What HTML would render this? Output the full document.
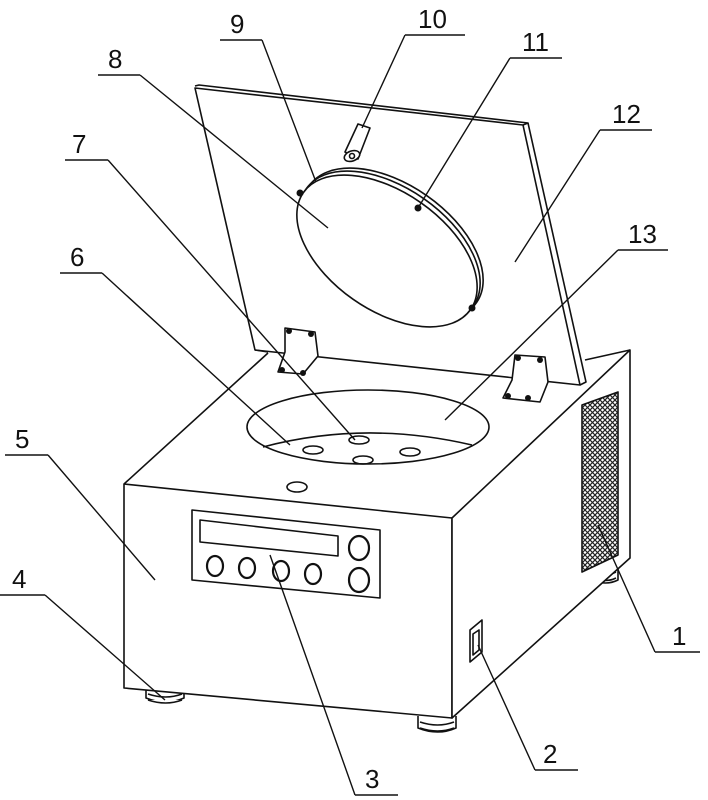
<!DOCTYPE html>
<html><head><style>
html,body{margin:0;padding:0;background:#fff;}
svg{display:block;}
text{font-family:"Liberation Sans",sans-serif;font-size:26px;fill:#111;}
</style></head><body>
<svg width="708" height="800" viewBox="0 0 708 800" xmlns="http://www.w3.org/2000/svg">
<defs>
<pattern id="mesh" width="5" height="5" patternUnits="userSpaceOnUse">
<rect width="5" height="5" fill="#fff"/>
<path d="M0 0L5 5M5 0L0 5" stroke="#222" stroke-width="1.2"/>
</pattern>
</defs>
<g fill="none" stroke="#111" stroke-width="1.6" stroke-linejoin="round">
<!-- feet -->
<g fill="#fff">
<path d="M146 688 v10 q20 8 38 0 v-10"/><path d="M148 694 q18 6 34 0 M148 700 q18 6 34 0"/>
<path d="M418 716 v12 q20 8 38 0 v-12"/><path d="M420 722 q18 6 34 0 M420 728 q18 6 34 0"/>
<path d="M592 558 v22 q14 6 26 0 v-22"/><path d="M594 572 q12 5 22 0 M594 578 q12 5 22 0"/>
</g>
<!-- box -->
<path d="M124 484 L452 518 L452 718 L124 688 Z" fill="#fff"/>
<path d="M452 518 L630 350 L630 558 L452 718 Z" fill="#fff"/>
<path d="M124 484 L268 353 M630 350 L585 360"/>
<!-- lid -->
<path d="M195 88 L523 125 L580 385 L255 350 Z" fill="#fff"/>
<path d="M195 86 L199 85 L528 123 L523 125"/>
<path d="M528 123 L586 382 L580 385"/>
<path d="M255 350 L268 352"/>
<!-- lid window -->
<ellipse cx="393" cy="244" rx="102" ry="59" transform="rotate(35 393 244)"/>
<ellipse cx="390" cy="247" rx="102" ry="59" transform="rotate(35 390 247)"/>
<ellipse cx="387" cy="251" rx="102" ry="59" transform="rotate(35 387 251)" fill="#fff"/>
<!-- part 10 -->
<path d="M345 152 L358 124 L370 128 L358 159 Z" fill="#fff"/>
<ellipse cx="352" cy="156" rx="8" ry="5" transform="rotate(-20 352 156)" fill="#fff"/>
<circle cx="352" cy="156" r="2.5"/>
<!-- hinges -->
<path d="M285 328 L315 332 L318 356 L303 374 L278 372 L285 352 Z" fill="#fff"/>
<path d="M515 355 L545 357 L548 382 L540 402 L503 398 L512 380 Z" fill="#fff"/>
<!-- bowl -->
<ellipse cx="368" cy="427" rx="121" ry="37" fill="#fff"/>
<path d="M263 447 Q365 420 472 445"/>
<ellipse cx="313" cy="450" rx="10" ry="4"/>
<ellipse cx="359" cy="440" rx="10" ry="4"/>
<ellipse cx="410" cy="452" rx="10" ry="4"/>
<ellipse cx="363" cy="460" rx="10" ry="4"/>
<ellipse cx="297" cy="487" rx="10" ry="5"/>
<!-- panel -->
<path d="M192 510 L380 530 L380 598 L192 580 Z"/>
<path d="M200 520 L338 536 L338 556 L200 542 Z"/>
<g stroke-width="2.2">
<ellipse cx="215" cy="566" rx="8" ry="10"/><ellipse cx="247" cy="568" rx="8" ry="10"/>
<ellipse cx="281" cy="571" rx="8" ry="10"/><ellipse cx="313" cy="574" rx="8" ry="10"/>
<ellipse cx="359" cy="548" rx="10" ry="12"/><ellipse cx="359" cy="580" rx="10" ry="12"/>
</g>
<!-- mesh -->
<path d="M582 405 L618 392 L618 555 L582 572 Z" fill="url(#mesh)"/>
<!-- switch -->
<path d="M470 630 L482 620 L482 652 L470 662 Z"/>
<path d="M473 634 L479 630 L479 650 L473 655 Z"/>
<!-- leaders -->
<g stroke-width="1.4">
<path d="M655 652 L700 652 M655 652 L598 525"/>
<path d="M535 770 L578 770 M535 770 L478 645"/>
<path d="M355 795 L398 795 M355 795 L270 555"/>
<path d="M0 595 L45 595 M45 595 L165 700"/>
<path d="M5 455 L48 455 M48 455 L155 580"/>
<path d="M60 273 L102 273 M102 273 L290 445"/>
<path d="M65 160 L108 160 M108 160 L355 440"/>
<path d="M98 75 L140 75 M140 75 L328 228"/>
<path d="M220 40 L262 40 M262 40 L316 182"/>
<path d="M405 35 L465 35 M405 35 L362 128"/>
<path d="M510 58 L562 58 M510 58 L418 208"/>
<path d="M600 130 L652 130 M600 130 L515 262"/>
<path d="M618 250 L668 250 M618 250 L445 420"/>
</g>
</g>
<g fill="#111">
<circle cx="300" cy="193" r="3.5"/><circle cx="418" cy="208" r="3.5"/><circle cx="472" cy="308" r="3.5"/>
<circle cx="289" cy="331" r="3"/><circle cx="311" cy="334" r="3"/><circle cx="282" cy="370" r="3"/><circle cx="303" cy="373" r="3"/>
<circle cx="518" cy="358" r="3"/><circle cx="540" cy="360" r="3"/><circle cx="508" cy="396" r="3"/><circle cx="528" cy="398" r="3"/>
</g>
<text x="672" y="645">1</text>
<text x="543" y="763">2</text>
<text x="365" y="788">3</text>
<text x="12" y="588">4</text>
<text x="15" y="448">5</text>
<text x="70" y="266">6</text>
<text x="72" y="153">7</text>
<text x="108" y="68">8</text>
<text x="230" y="33">9</text>
<text x="418" y="28">10</text>
<text x="522" y="51">11</text>
<text x="612" y="123">12</text>
<text x="628" y="243">13</text>
</svg>
</body></html>
